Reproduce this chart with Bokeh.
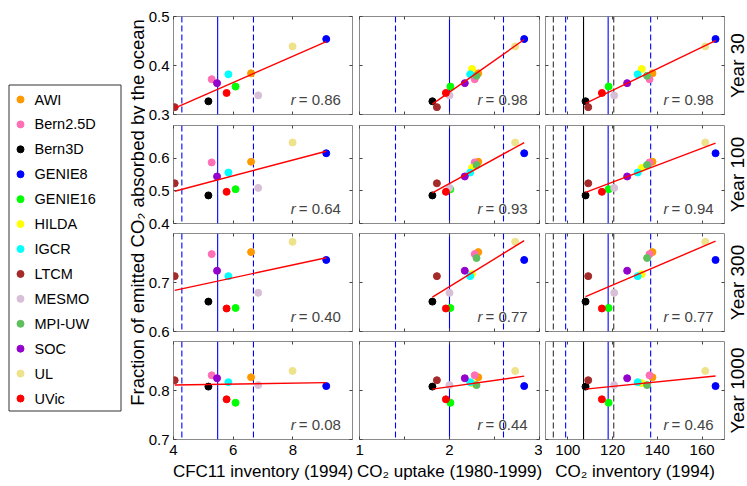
import math
import numpy as np
from bokeh.plotting import figure
from bokeh.models import (Range1d, FixedTicker, LinearAxis, Span, Label,
                          ColumnDataSource, PrintfTickFormatter)
from bokeh.layouts import row, column
from bokeh.core.properties import value
from bokeh.embed import file_html
from bokeh.resources import INLINE

# ---------------- data ----------------
models = ["AWI", "Bern2.5D", "Bern3D", "GENIE8", "GENIE16", "HILDA", "IGCR",
          "LTCM", "MESMO", "MPI-UW", "SOC", "UL", "UVic"]
colors = ["#FF9900", "#FF6FB5", "#000000", "#0000FF", "#00FF00", "#FFFF00",
          "#00FFFF", "#A52A2A", "#D8BFD8", "#5FBF5F", "#9400CC", "#EEE28A",
          "#FF0000"]

nan = float("nan")
cfc11_inventory = [6.60, 5.28, 5.17, 9.12, 6.08, nan, 5.84, 4.04, 6.84, nan,
                   5.46, 7.99, 5.78]
co2_uptake = [2.32, 2.28, 1.81, 2.83, 2.01, 2.25, 2.23, 1.86, 2.00, 2.30,
              2.17, 2.73, 1.96]
co2_inventory = [137.8, 136.5, 107.9, 166.0, 118.2, 133.0, 131.2, 109.1,
                 120.7, 135.4, 126.5, 161.4, 115.2]

frac_year30 = [0.384, 0.372, 0.327, 0.454, 0.357, 0.393, 0.382, 0.315, 0.339,
               0.379, 0.364, 0.439, 0.344]
frac_year100 = [0.589, 0.587, 0.486, 0.615, 0.505, 0.570, 0.556, 0.523, 0.509,
                0.579, 0.544, 0.648, 0.497]
frac_year300 = [0.762, 0.758, 0.661, 0.746, 0.648, 0.717, 0.713, 0.713, 0.679,
                0.750, 0.724, 0.783, 0.647]
frac_year1000 = [0.827, 0.831, 0.808, 0.809, 0.775, 0.815, 0.817, 0.821, 0.811,
                 0.811, 0.825, 0.840, 0.782]

r_year30 = ["0.86", "0.98", "0.98"]
r_year100 = ["0.64", "0.93", "0.94"]
r_year300 = ["0.40", "0.77", "0.77"]
r_year1000 = ["0.08", "0.44", "0.46"]

row_labels = ["Year 30", "Year 100", "Year 300", "Year 1000"]
x_titles = ["CFC11 inventory (1994)", "CO\u2082 uptake (1980-1999)",
            "CO\u2082 inventory (1994)"]
y_title = "Fraction of emitted CO\u2082 absorbed by the ocean"

x_limits = [(4, 10), (1, 3), (90, 170)]
y_limits = [(0.3, 0.5), (0.4, 0.7), (0.6, 0.8), (0.7, 0.9)]
x_ticks = [[4, 6, 8], [1, 2, 3], [100, 120, 140, 160]]
x_minor_ticks = [[], [1.5, 2.5], []]
y_ticks = [[0.3, 0.4, 0.5], [0.4, 0.5, 0.6], [0.6, 0.7], [0.7, 0.8]]

# observational estimates: best value, lower, upper
obs_cfc11 = [5.48, 4.28, 6.68]
obs_uptake = [2.0, 1.4, 2.6]
obs_inventory = [118.0, 99.0, 137.0]
obs_inventory_alt = [107.0, 93.5, 120.5]

x_data = [cfc11_inventory, co2_uptake, co2_inventory]
y_data = [frac_year30, frac_year100, frac_year300, frac_year1000]
r_text = [r_year30, r_year100, r_year300, r_year1000]
obs_blue = [obs_cfc11, obs_uptake, obs_inventory]

FONT = "Liberation Sans"
TICK_COL = "#444444"
FRAME_COL = "#8a8a8a"

# layout (pixels)
LEFT_W = 145
COL_W = [210, 187, 183]
COL_BL = [27, 4, 3]
COL_BR = [3, 3, 1]
YEAR_W = 22
ROW_H = [124, 108, 108, 146]
ROW_BT = [16, 1, 1, 1]
ROW_BB = [10, 9, 9, 47]
TOTAL_H = sum(ROW_H)


def style_axis(ax, ticks, minor, fmt, show, standoff=4):
    ax.ticker = FixedTicker(ticks=ticks, minor_ticks=minor)
    ax.formatter = PrintfTickFormatter(format=fmt)
    ax.major_tick_in = 3
    ax.major_tick_out = 0
    ax.minor_tick_in = 3
    ax.minor_tick_out = 0
    ax.major_tick_line_color = TICK_COL
    ax.minor_tick_line_color = TICK_COL
    ax.axis_line_color = None
    ax.major_label_text_font = FONT
    if show:
        ax.major_label_text_color = "black"
        ax.major_label_text_font_size = "15px"
        ax.major_label_standoff = standoff
    else:
        ax.major_label_text_color = None
        ax.major_label_text_font_size = "0.8px"
        ax.major_label_standoff = 0


def title_axis(ax, text, size):
    ax.ticker = FixedTicker(ticks=[])
    ax.major_tick_in = 0
    ax.major_tick_out = 0
    ax.minor_tick_in = 0
    ax.minor_tick_out = 0
    ax.axis_line_color = None
    ax.major_label_standoff = 0
    ax.axis_label = text
    ax.axis_label_standoff = 0
    ax.axis_label_text_font = FONT
    ax.axis_label_text_font_style = "normal"
    ax.axis_label_text_font_size = size
    ax.axis_label_text_color = "black"


def panel(ri, ci):
    p = figure(width=COL_W[ci], height=ROW_H[ri],
               min_border_left=COL_BL[ci], min_border_right=COL_BR[ci],
               min_border_top=ROW_BT[ri], min_border_bottom=ROW_BB[ri],
               x_range=Range1d(*x_limits[ci]), y_range=Range1d(*y_limits[ri]),
               output_backend="svg", toolbar_location=None, tools="")
    p.grid.visible = False
    p.outline_line_color = FRAME_COL
    p.outline_line_width = 1
    p.background_fill_color = "white"
    p.border_fill_color = "white"

    yfmt = "%.1f"
    xfmt = "%d"
    xa = p.xaxis[0]
    style_axis(xa, x_ticks[ci], x_minor_ticks[ci], xfmt, ri == 3, 5)
    if ri == 3:
        xa.axis_label = x_titles[ci]
        xa.axis_label_standoff = 4
        xa.axis_label_text_font = FONT
        xa.axis_label_text_font_style = "normal"
        xa.axis_label_text_font_size = "17px"
        xa.axis_label_text_color = "black"
    style_axis(p.yaxis[0], y_ticks[ri], [], yfmt, ci == 0, 4)
    top = LinearAxis()
    style_axis(top, x_ticks[ci], x_minor_ticks[ci], xfmt, False)
    p.add_layout(top, "above")
    right = LinearAxis()
    style_axis(right, y_ticks[ri], [], yfmt, False)
    p.add_layout(right, "right")

    # observational ranges
    best, lo, hi = obs_blue[ci]
    p.add_layout(Span(location=best, dimension="height", line_color="#0000FF",
                      line_width=1.1, level="underlay"))
    for v in (lo, hi):
        p.add_layout(Span(location=v, dimension="height", line_color="#0000FF",
                          line_width=1.1, line_dash="6 3", level="underlay"))
    if ci == 2:
        best, lo, hi = obs_inventory_alt
        p.add_layout(Span(location=best, dimension="height", line_color="black",
                          line_width=1.1, level="underlay"))
        for v in (lo, hi):
            p.add_layout(Span(location=v, dimension="height", line_color="#333333",
                              line_width=1.1, line_dash="6 3", level="underlay"))

    xs = np.array(x_data[ci], dtype=float)
    ys = np.array(y_data[ri], dtype=float)
    mask = ~np.isnan(xs)
    src = ColumnDataSource(dict(
        x=xs[mask], y=ys[mask],
        c=[c for c, m in zip(colors, mask) if m]))
    p.scatter("x", "y", source=src, size=7, fill_color="c", line_color="c")

    slope, icpt = np.polyfit(xs[mask], ys[mask], 1)
    xl = np.array([xs[mask].min(), xs[mask].max()])
    p.line(xl, slope * xl + icpt, line_color="#FF0000", line_width=1.4)

    x0, x1 = x_limits[ci]
    y0, y1 = y_limits[ri]
    fw = COL_W[ci] - COL_BL[ci] - COL_BR[ci]
    lx = x0 + (118.0 / fw) * (x1 - x0)
    ly = y0 + (15.0 / 98.0) * (y1 - y0)
    p.add_layout(Label(x=lx, y=ly, text="r", text_font=FONT,
                       text_font_style="italic", text_font_size="15px",
                       text_baseline="alphabetic", text_align="left"))
    p.add_layout(Label(x=lx, y=ly, x_offset=8, text="= " + r_text[ri][ci],
                       text_font=FONT, text_font_size="15px",
                       text_baseline="alphabetic", text_align="left"))
    return p


def year_panel(ri):
    q = figure(width=YEAR_W, height=ROW_H[ri], min_border_left=YEAR_W - 1,
               min_border_right=0, min_border_top=ROW_BT[ri],
               min_border_bottom=ROW_BB[ri], x_range=Range1d(0, 1),
               y_range=Range1d(*y_limits[ri]), x_axis_type=None,
               output_backend="svg", toolbar_location=None, tools="")
    q.grid.visible = False
    q.outline_line_color = None
    title_axis(q.yaxis[0], row_labels[ri], "19px")
    return q


rows = []
for ri in range(4):
    rows.append(row([panel(ri, ci) for ci in range(3)] + [year_panel(ri)],
                    spacing=0))
grid = column(rows, spacing=0)

# left panel: legend box + y title
leg = figure(width=LEFT_W, height=TOTAL_H, x_range=Range1d(0, LEFT_W),
             y_range=Range1d(TOTAL_H, 0), x_axis_type=None, y_axis_type=None,
             min_border=0, output_backend="svg", toolbar_location=None,
             tools="")
leg.grid.visible = False
leg.outline_line_color = None
leg.quad(left=[8.5], right=[120.5], top=[84.5], bottom=[410.5],
         fill_color=None, line_color="#333333", line_width=1)
idx = np.arange(len(models))
lsrc = ColumnDataSource(dict(y=99.0 + 24.92 * idx, name=models, c=colors))
leg.scatter(x=20, y="y", source=lsrc, size=7, fill_color="c", line_color="c")
leg.text(x=34, y="y", text="name", source=lsrc, text_font=value(FONT),
         text_font_size="14.5px", text_baseline="middle", text_align="left",
         text_color="black")
ysrc = ColumnDataSource(dict(x=[137], y=[212], t=[y_title]))
leg.text(x="x", y="y", text="t", source=ysrc, angle=math.pi / 2,
         text_font=value(FONT), text_font_size="18.5px",
         text_align="center", text_baseline="middle", text_color="black")

p = row([leg, grid], spacing=0)

open("out.html", "w").write(file_html(p, INLINE))
